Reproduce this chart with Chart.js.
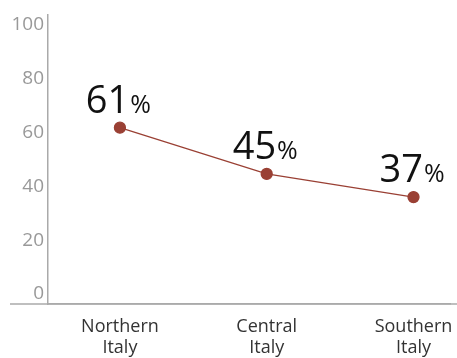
<!DOCTYPE html>
<html>
<head>
<meta charset="utf-8">
<script src="https://cdn.jsdelivr.net/npm/chart.js@4"></script>
<style>
  html, body { margin: 0; padding: 0; background: #fff; }
  #wrap { width: 457px; height: 358px; position: relative; }
</style>
</head>
<body>
<div id="wrap"><canvas id="chart"></canvas></div>
<script>
const categories = [["Northern", "Italy"], ["Central", "Italy"], ["Southern", "Italy"]];
const shares = [61, 45, 37];
const yTicks = [0, 20, 40, 60, 80, 100];

const lineColor = "#9a4034";
const axisColor = "#aaaaaa";
const fontFamily = "'Open Sans', 'Noto Sans', sans-serif";

// value labels like "61%" with a smaller percent sign
const valueLabels = {
    id: "valueLabels",
    afterDatasetsDraw(chart) {
        const ctx = chart.ctx;
        const meta = chart.getDatasetMeta(0);
        ctx.save();
        ctx.fillStyle = "#111";
        ctx.textBaseline = "alphabetic";
        ctx.textAlign = "left";
        meta.data.forEach((pt, i) => {
            const num = String(shares[i]);
            ctx.font = `38px ${fontFamily}`;
            const wNum = ctx.measureText(num).width;
            ctx.font = `25px ${fontFamily}`;
            const wPct = ctx.measureText("%").width;
            const start = pt.x - 2 - (wNum + wPct) / 2;
            const base = pt.y - 15;
            ctx.font = `38px ${fontFamily}`;
            ctx.fillText(num, start, base);
            ctx.font = `25px ${fontFamily}`;
            ctx.fillText("%", start + wNum + 1, base);
        });
        ctx.restore();
    },
};

// the baseline runs past the y axis to the left
const baseLine = {
    id: "baseLine",
    afterDraw(chart) {
        const { ctx, chartArea } = chart;
        ctx.save();
        ctx.strokeStyle = axisColor;
        ctx.lineWidth = 1.5;
        ctx.beginPath();
        ctx.moveTo(10, chartArea.bottom);
        ctx.lineTo(457, chartArea.bottom);
        ctx.stroke();
        ctx.restore();
    },
};

new Chart(document.getElementById("chart"), {
    type: "line",
    data: {
        datasets: [{
            data: shares.map((v, i) => ({ x: i, y: v })),
            borderColor: lineColor,
            borderWidth: 1.3,
            pointBackgroundColor: lineColor,
            pointBorderColor: lineColor,
            pointRadius: 5.5,
            tension: 0,
            yAxisID: "y",
        }],
    },
    options: {
        responsive: true,
        maintainAspectRatio: false,
        animation: false,
        layout: { padding: { top: 15, right: 0, left: 0, bottom: 0 } },
        plugins: {
            legend: { display: false },
            tooltip: { enabled: false },
        },
        scales: {
            x: {
                type: "linear",
                min: -0.49,
                max: 2.25,
                afterBuildTicks: (s) => { s.ticks = [0, 1, 2].map((v) => ({ value: v })); },
                afterFit: (s) => { s.height = 54; s.paddingLeft = 0; s.paddingRight = 0; },
                grid: { display: false, drawTicks: false },
                border: { color: axisColor, width: 1.5 },
                ticks: {
                    padding: 12,
                    color: "#333",
                    autoSkip: false,
                    maxRotation: 0,
                    font: { family: fontFamily, size: 18, lineHeight: "21px" },
                    callback: (v) => categories[v],
                },
            },
            y: {
                display: false,
                min: 0,
                max: 100,
            },
            yl: {
                position: "left",
                min: -3.7,
                max: 103.7,
                afterBuildTicks: (s) => { s.ticks = yTicks.map((v) => ({ value: v })); },
                afterFit: (s) => { s.width = 48; s.paddingTop = 0; s.paddingBottom = 0; },
                grid: { display: false, drawTicks: false },
                border: { color: axisColor, width: 1.5 },
                ticks: {
                    padding: 4,
                    color: "#999",
                    font: { family: fontFamily, size: 19 },
                },
            },
        },
    },
    plugins: [valueLabels, baseLine],
});
</script>
</body>
</html>
